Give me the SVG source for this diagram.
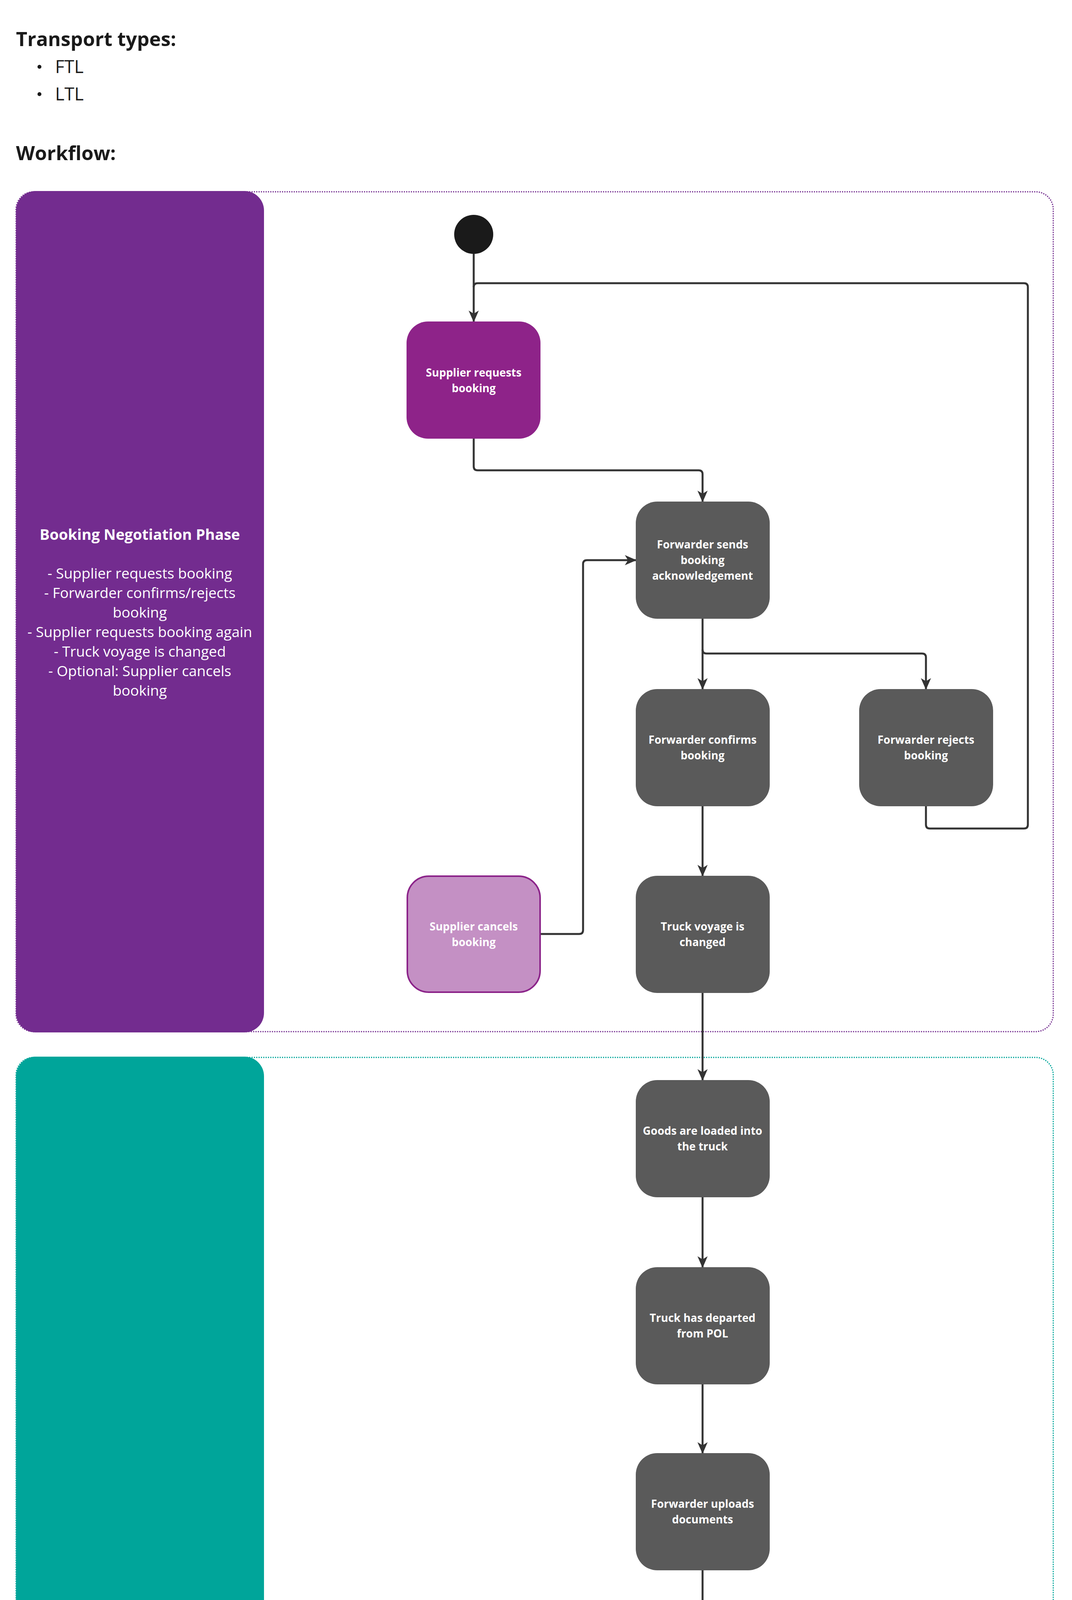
<svg xmlns="http://www.w3.org/2000/svg" width="2745" height="5827" viewBox="0 0 2745 5827">
<style>
.h{font-family:"Open Sans","Noto Sans",sans-serif;font-weight:bold;font-size:50px;fill:#1a1a1a}
.li{font-family:"Open Sans","Noto Sans",sans-serif;font-size:46px;fill:#1a1a1a}
.lt{font-family:"Open Sans","Noto Sans",sans-serif;font-size:37px;fill:#fff;text-anchor:middle}
.ltb{font-weight:bold;font-size:38px}
.nt{font-family:"Open Sans","Noto Sans",sans-serif;font-weight:bold;font-size:28px;fill:#fff;text-anchor:middle}
.n{fill:#5a5a5a}
.c{fill:none;stroke:#333;stroke-width:5;stroke-linejoin:round}
</style>
<defs><marker id="a" viewBox="0 0 30 30" refX="28" refY="15" markerWidth="30" markerHeight="30" markerUnits="userSpaceOnUse" orient="auto"><path d="M0,2 L30,15 L0,28 L8,15 Z" fill="#333"/></marker></defs>
<rect width="2745" height="5827" fill="#fff"/>
<g id="header">
<text class="h" x="41" y="118">Transport types:</text>
<circle cx="101" cy="171" r="5" fill="#1a1a1a"/><text class="li" x="141" y="187">FTL</text>
<circle cx="101" cy="241" r="5" fill="#1a1a1a"/><text class="li" x="141" y="257">LTL</text>
<text class="h" x="41" y="410">Workflow:</text>
</g>
<g id="lane-booking">
<rect x="41" y="491" width="2656" height="2150" rx="45" fill="none" stroke="#732c8f" stroke-width="3" stroke-dasharray="3,3"/>
<rect x="41" y="489" width="635" height="2154" rx="50" fill="#732c8f"/>
<text class="lt ltb" x="358" y="1382">Booking Negotiation Phase</text>
<text class="lt" x="358" y="1481">- Supplier requests booking</text>
<text class="lt" x="358" y="1531">- Forwarder confirms/rejects</text>
<text class="lt" x="358" y="1581">booking</text>
<text class="lt" x="358" y="1631">- Supplier requests booking again</text>
<text class="lt" x="358" y="1681">- Truck voyage is changed</text>
<text class="lt" x="358" y="1731">- Optional: Supplier cancels</text>
<text class="lt" x="358" y="1781">booking</text>
</g>
<g id="lane-shipment">
<rect x="41" y="2707" width="2656" height="3071" rx="45" fill="none" stroke="#00a59a" stroke-width="3" stroke-dasharray="3,3"/>
<rect x="41" y="2705" width="635" height="3073" rx="50" fill="#00a59a"/>
<text class="lt ltb" x="358" y="4182">Shipment Phase</text>
<text class="lt" x="358" y="4282">- Shipment status of truck</text>
<text class="lt" x="358" y="4332">- Document upload</text>
</g>
<g id="connectors">
<path class="c" d="M1213,650 V823" marker-end="url(#a)"/>
<path class="c" d="M2371,2063 V2111 Q2371,2121 2381,2121 H2622 Q2632,2121 2632,2111 V735 Q2632,725 2622,725 H1223 Q1213,725 1213,735"/>
<path class="c" d="M1213,1123 V1194 Q1213,1204 1223,1204 H1789 Q1799,1204 1799,1214 V1284" marker-end="url(#a)"/>
<path class="c" d="M1799,1584 V1764" marker-end="url(#a)"/>
<path class="c" d="M1799,1663 Q1799,1673 1809,1673 H2361 Q2371,1673 2371,1683 V1764" marker-end="url(#a)"/>
<path class="c" d="M1799,2063 V2242" marker-end="url(#a)"/>
<path class="c" d="M1383,2391 H1483 Q1493,2391 1493,2381 V1444 Q1493,1434 1503,1434 H1628" marker-end="url(#a)"/>
<path class="c" d="M1799,2541 V2765" marker-end="url(#a)"/>
<path class="c" d="M1799,3065 V3244" marker-end="url(#a)"/>
<path class="c" d="M1799,3544 V3720" marker-end="url(#a)"/>
<path class="c" d="M1799,4020 V4199" marker-end="url(#a)"/>
<path class="c" d="M1799,4499 V4678" marker-end="url(#a)"/>
<path class="c" d="M1799,4978 V5154" marker-end="url(#a)"/>
<path class="c" d="M1799,5454 V5634" marker-end="url(#a)"/>
</g>
<g id="start"><circle cx="1213" cy="600" r="50" fill="#1a1a1a"/></g>
<g id="end"><circle cx="1799" cy="5682" r="48" fill="#1a1a1a"/></g>
<g id="n-supplier-requests"><rect x="1041" y="823" width="343" height="300" rx="55" fill="#8e2389"/>
<text class="nt" x="1213" y="964">Supplier requests</text><text class="nt" x="1213" y="1004">booking</text></g>
<g id="n-forwarder-sends"><rect class="n" x="1628" y="1284" width="343" height="300" rx="55"/>
<text class="nt" x="1799" y="1404">Forwarder sends</text><text class="nt" x="1799" y="1444">booking</text><text class="nt" x="1799" y="1484">acknowledgement</text></g>
<g id="n-forwarder-confirms"><rect class="n" x="1628" y="1764" width="343" height="300" rx="55"/>
<text class="nt" x="1799" y="1904">Forwarder confirms</text><text class="nt" x="1799" y="1944">booking</text></g>
<g id="n-forwarder-rejects"><rect class="n" x="2200" y="1764" width="343" height="300" rx="55"/>
<text class="nt" x="2371" y="1904">Forwarder rejects</text><text class="nt" x="2371" y="1944">booking</text></g>
<g id="n-supplier-cancels"><rect x="1043" y="2243" width="340" height="297" rx="55" fill="#c490c4" stroke="#8b2389" stroke-width="4"/>
<text class="nt" x="1213" y="2382">Supplier cancels</text><text class="nt" x="1213" y="2422">booking</text></g>
<g id="n-truck-voyage"><rect class="n" x="1628" y="2242" width="343" height="300" rx="55"/>
<text class="nt" x="1799" y="2382">Truck voyage is</text><text class="nt" x="1799" y="2422">changed</text></g>
<g id="n-goods-loaded"><rect class="n" x="1628" y="2765" width="343" height="300" rx="55"/>
<text class="nt" x="1799" y="2905">Goods are loaded into</text><text class="nt" x="1799" y="2945">the truck</text></g>
<g id="n-truck-departed"><rect class="n" x="1628" y="3244" width="343" height="300" rx="55"/>
<text class="nt" x="1799" y="3384">Truck has departed</text><text class="nt" x="1799" y="3424">from POL</text></g>
<g id="n-uploads-docs"><rect class="n" x="1628" y="3720" width="343" height="300" rx="55"/>
<text class="nt" x="1799" y="3860">Forwarder uploads</text><text class="nt" x="1799" y="3900">documents</text></g>
<g id="n-truck-delayed"><rect class="n" x="1628" y="4199" width="343" height="300" rx="55"/>
<text class="nt" x="1799" y="4339">Truck is delayed at</text><text class="nt" x="1799" y="4379">POA</text></g>
<g id="n-truck-arrived"><rect class="n" x="1628" y="4678" width="343" height="300" rx="55"/>
<text class="nt" x="1799" y="4818">Truck has arrived at</text><text class="nt" x="1799" y="4858">POA</text></g>
<g id="n-uploads-pod"><rect class="n" x="1628" y="5154" width="343" height="300" rx="55"/>
<text class="nt" x="1799" y="5294">Forwarder uploads</text><text class="nt" x="1799" y="5334">POD</text></g>
</svg>
